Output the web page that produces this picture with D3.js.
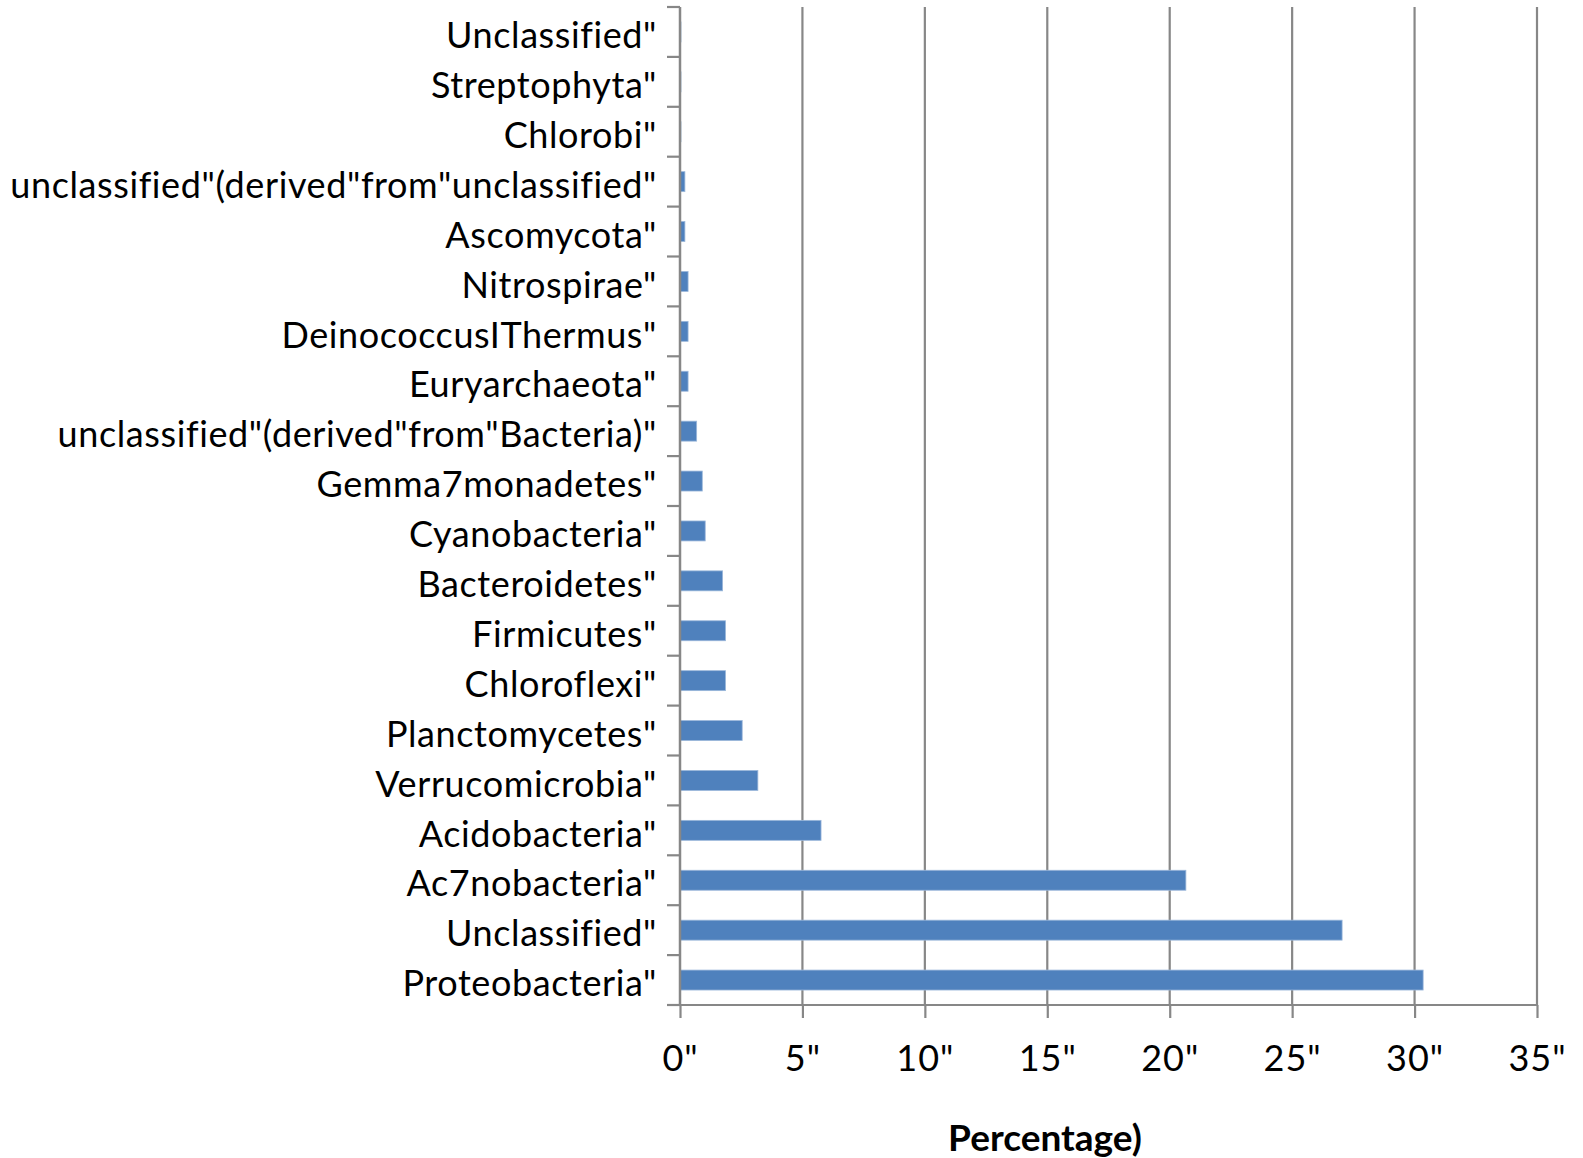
<!DOCTYPE html>
<html><head><meta charset="utf-8">
<script src="https://cdn.jsdelivr.net/npm/d3@7/dist/d3.min.js"></script>
<style>body{margin:0;background:#fff}svg{display:block}text{font-variant-ligatures:none}</style>
</head><body>
<svg id="chart" width="1583" height="1158"></svg>
<script>
// Categories from top to bottom, as shown
const categories = [
  'Unclassified"', 'Streptophyta"', 'Chlorobi"',
  'unclassified"(derived"from"unclassified"', 'Ascomycota"', 'Nitrospirae"',
  'DeinococcusIThermus"', 'Euryarchaeota"', 'unclassified"(derived"from"Bacteria)"',
  'Gemma7monadetes"', 'Cyanobacteria"', 'Bacteroidetes"', 'Firmicutes"',
  'Chloroflexi"', 'Planctomycetes"', 'Verrucomicrobia"', 'Acidobacteria"',
  'Ac7nobacteria"', 'Unclassified"', 'Proteobacteria"'
];
const values = [
  0.04, 0.04, 0.04,
  0.2, 0.2, 0.33,
  0.33, 0.33, 0.68,
  0.91, 1.03, 1.74, 1.86,
  1.86, 2.54, 3.18, 5.76,
  20.66, 27.04, 30.35
];
const xTicks = [0, 5, 10, 15, 20, 25, 30, 35];
const xTickLabels = ['0"', '5"', '10"', '15"', '20"', '25"', '30"', '35"'];
const xTitle = 'Percentage)';

(function () {
const svg = d3.select('#chart');
const pl = 680, pr = 1537, pt = 7, pb = 1005;
const FONT = 'Lato, "Open Sans", sans-serif';
const grey = '#878787';

const x = d3.scaleLinear().domain([0, 35]).range([pl, pr]);
const y = d3.scaleBand().domain(d3.range(categories.length)).range([pt, pb])
  .paddingInner(0.6).paddingOuter(0.3);
const yEdge = d3.scaleLinear().domain([0, categories.length]).range([pt, pb]);

// vertical gridlines
svg.append('g').selectAll('line').data(xTicks.filter(d => d > 0)).join('line')
  .attr('x1', d => x(d)).attr('x2', d => x(d))
  .attr('y1', pt).attr('y2', pb)
  .attr('stroke', grey).attr('stroke-width', 2.2);

// bars
svg.append('g').selectAll('rect').data(values).join('rect')
  .attr('x', x(0))
  .attr('y', (d, i) => y(i))
  .attr('width', d => x(d) - x(0))
  .attr('height', y.bandwidth())
  .attr('fill', '#4F81BD')
  .attr('stroke', '#9bb7da').attr('stroke-width', 0.8);

// y axis ticks (category boundaries)
svg.append('g').selectAll('line').data(d3.range(categories.length + 1)).join('line')
  .attr('x1', pl - 13).attr('x2', pl)
  .attr('y1', d => yEdge(d)).attr('y2', d => yEdge(d))
  .attr('stroke', grey).attr('stroke-width', 2.2);

// x axis
const xAxis = d3.axisBottom(x).tickValues(xTicks).tickSize(13).tickSizeOuter(0)
  .tickFormat((d, i) => xTickLabels[i]).tickPadding(27);
const gx = svg.append('g').attr('transform', `translate(0,${pb})`).call(xAxis);
gx.select('.domain').attr('stroke', grey).attr('stroke-width', 2.2)
  .attr('d', `M${pl - 13},0H${pr}`);
gx.selectAll('.tick line').attr('stroke', grey).attr('stroke-width', 2.2);
gx.selectAll('.tick text').attr('fill', '#000').style('font-family', FONT)
  .style('font-size', '36px').style('letter-spacing', '1px').attr('dy', '0.71em');

// y axis line
svg.append('line').attr('x1', pl).attr('x2', pl).attr('y1', pt).attr('y2', pb)
  .attr('stroke', grey).attr('stroke-width', 2.5);

// category labels
svg.append('g').selectAll('text').data(categories).join('text')
  .attr('x', 657)
  .attr('y', (d, i) => y(i) + y.bandwidth() / 2)
  .attr('dy', '0.45em')
  .attr('text-anchor', 'end')
  .style('font-family', FONT).style('font-size', '36px').style('letter-spacing', '0.6px')
  .text(d => d);

// axis title
svg.append('text').attr('x', 1045).attr('y', 1138).attr('dy', '0.35em')
  .attr('text-anchor', 'middle')
  .style('font-family', FONT).style('font-size', '37px').style('font-weight', 'bold')
  .text(xTitle);
})();
</script>
</body></html>
